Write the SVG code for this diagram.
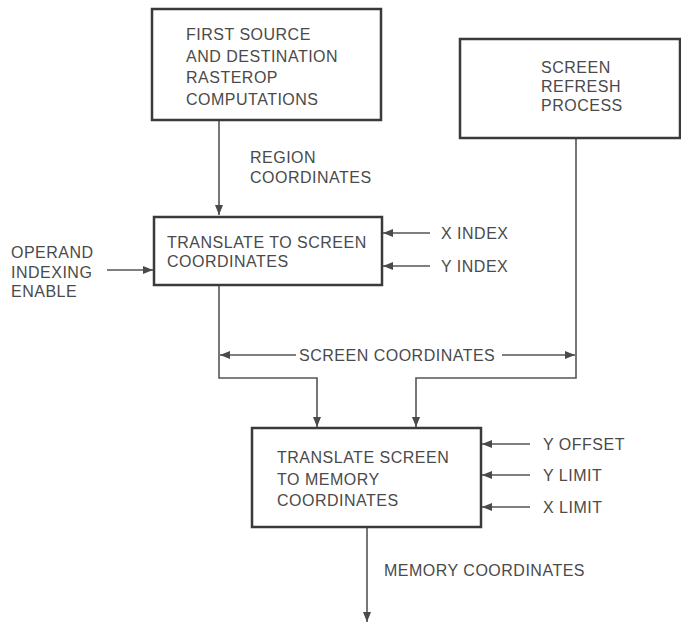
<svg xmlns="http://www.w3.org/2000/svg" width="681" height="625" viewBox="0 0 681 625">
<defs>
<marker id="ah" viewBox="0 0 10 8" refX="10" refY="4" markerWidth="10" markerHeight="8" markerUnits="userSpaceOnUse" orient="auto">
<path d="M0,0 L10,4 L0,8 Z" fill="#4a4a4a"/>
</marker>
<style>
.box{fill:#fff;stroke:#3a3a3a;stroke-width:2.5}
.ln{fill:none;stroke:#555;stroke-width:1.6}
.t{font-family:"Liberation Sans",Arial,sans-serif;font-size:16px;fill:#4a4a4a;letter-spacing:0.5px}
</style>
</defs>
<rect width="681" height="625" fill="#fff"/>
<g id="connectors">
<path class="ln" d="M219,120 V215" marker-end="url(#ah)"/>
<path class="ln" d="M107,270 H153" marker-end="url(#ah)"/>
<path class="ln" d="M430,233 H383" marker-end="url(#ah)"/>
<path class="ln" d="M430,266 H383" marker-end="url(#ah)"/>
<path class="ln" d="M219,285 V378 H317 V427" marker-end="url(#ah)"/>
<path class="ln" d="M576,138 V378 H416 V427" marker-end="url(#ah)"/>
<path class="ln" d="M296,355 H220" marker-end="url(#ah)"/>
<path class="ln" d="M502,355 H575" marker-end="url(#ah)"/>
<path class="ln" d="M530,444 H482" marker-end="url(#ah)"/>
<path class="ln" d="M530,475 H482" marker-end="url(#ah)"/>
<path class="ln" d="M530,507 H482" marker-end="url(#ah)"/>
<path class="ln" d="M367,527 V622" marker-end="url(#ah)"/>
</g>
<g id="n1">
<rect class="box" x="152" y="9" width="229" height="111"/>
<text class="t" x="186" y="40">FIRST SOURCE</text>
<text class="t" x="186" y="62">AND DESTINATION</text>
<text class="t" x="186" y="83">RASTEROP</text>
<text class="t" x="186" y="105">COMPUTATIONS</text>
</g>
<g id="n2">
<rect class="box" x="460" y="39" width="220" height="99"/>
<text class="t" x="541" y="73">SCREEN</text>
<text class="t" x="541" y="92">REFRESH</text>
<text class="t" x="541" y="111">PROCESS</text>
</g>
<g id="n3">
<rect class="box" x="154" y="217" width="228" height="68"/>
<text class="t" x="167" y="248">TRANSLATE TO SCREEN</text>
<text class="t" x="167" y="267">COORDINATES</text>
</g>
<g id="n4">
<rect class="box" x="252" y="428" width="229" height="99"/>
<text class="t" x="277" y="463">TRANSLATE SCREEN</text>
<text class="t" x="277" y="485">TO MEMORY</text>
<text class="t" x="277" y="506">COORDINATES</text>
</g>
<g id="labels">
<text class="t" x="250" y="163">REGION</text>
<text class="t" x="250" y="183">COORDINATES</text>
<text class="t" x="11" y="258">OPERAND</text>
<text class="t" x="11" y="278">INDEXING</text>
<text class="t" x="11" y="297">ENABLE</text>
<text class="t" x="441" y="239">X INDEX</text>
<text class="t" x="441" y="272">Y INDEX</text>
<text class="t" x="299" y="361">SCREEN COORDINATES</text>
<text class="t" x="543" y="450">Y OFFSET</text>
<text class="t" x="543" y="481">Y LIMIT</text>
<text class="t" x="543" y="513">X LIMIT</text>
<text class="t" x="384" y="576">MEMORY COORDINATES</text>
</g>
</svg>
